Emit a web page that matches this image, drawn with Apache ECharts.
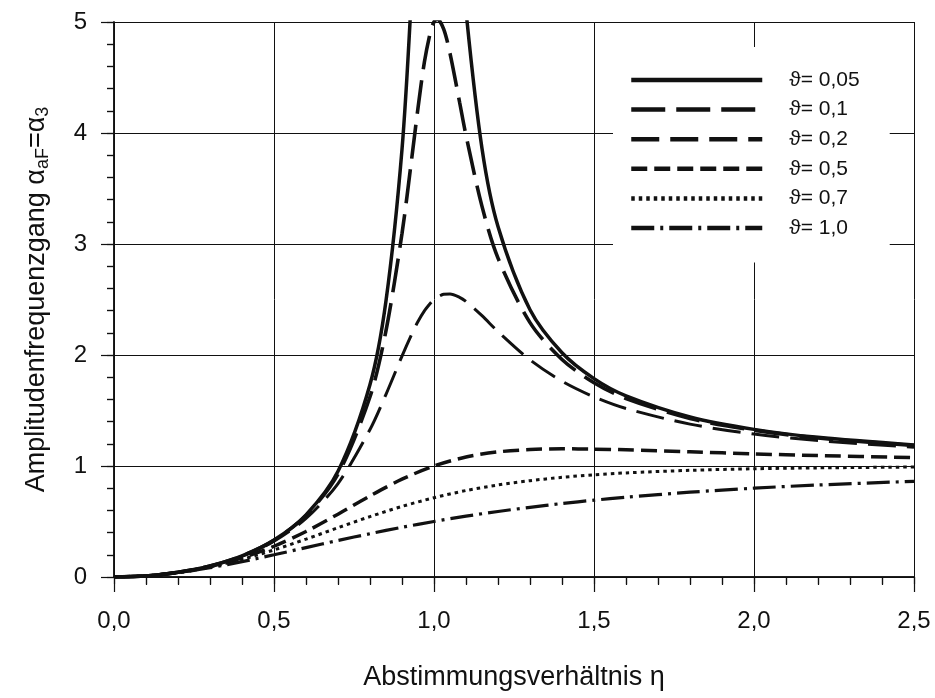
<!DOCTYPE html>
<html>
<head>
<meta charset="utf-8">
<script src="https://cdn.jsdelivr.net/npm/echarts@6/dist/echarts.min.js"></script>
<style>
  html, body { margin: 0; padding: 0; background: #fff; }
  #root { width: 935px; height: 698px; }
</style>
</head>
<body>
<div id="root"></div>
<script>
// eta values
const etaFine = [0, 0.1, 0.2, 0.3, 0.4, 0.5, 0.6, 0.7, 0.8, 0.85, 0.9, 0.93, 0.95, 0.97, 0.99, 1.0,
  1.01, 1.03, 1.05, 1.08, 1.1, 1.15, 1.2, 1.3, 1.4, 1.5, 1.6, 1.8, 2.0, 2.2, 2.5];
const etaCoarse = [0, 0.1, 0.2, 0.3, 0.4, 0.5, 0.6, 0.7, 0.8, 0.9, 1.0,
  1.1, 1.2, 1.3, 1.4, 1.5, 1.6, 1.8, 2.0, 2.2, 2.5];

// amplitude per damping (0.05 / 0.1 / 0.2 on etaFine, rest on etaCoarse)
const alpha005 = [0, 0.010, 0.042, 0.099, 0.190, 0.333, 0.560, 0.952, 1.735, 2.489, 3.853, 5.27, 6.63, 8.28, 9.60, 10.0,
  9.75, 8.87, 7.51, 5.88, 5.10, 3.86, 3.157, 2.407, 2.020, 1.787, 1.632, 1.442, 1.330, 1.258, 1.189];
const alpha01 = [0, 0.010, 0.042, 0.099, 0.190, 0.330, 0.553, 0.927, 1.624, 2.220, 3.095, 3.762, 4.226, 4.640, 4.925, 5.0,
  5.025, 4.939, 4.718, 4.277, 3.979, 3.339, 2.873, 2.292, 1.960, 1.750, 1.608, 1.428, 1.322, 1.252, 1.185];
const alpha02 = [0, 0.010, 0.042, 0.098, 0.187, 0.322, 0.527, 0.842, 1.329, 1.646, 1.990, 2.185, 2.301, 2.397, 2.470, 2.5,
  2.520, 2.547, 2.550, 2.520, 2.482, 2.354, 2.211, 1.956, 1.764, 1.623, 1.518, 1.377, 1.288, 1.229, 1.169];
const alpha05 = [0, 0.010, 0.041, 0.094, 0.172, 0.277, 0.410, 0.566, 0.730, 0.881, 1.0,
  1.081, 1.127, 1.148, 1.155, 1.152, 1.146, 1.128, 1.109, 1.094, 1.075];
const alpha07 = [0, 0.010, 0.040, 0.090, 0.159, 0.244, 0.341, 0.444, 0.544, 0.636, 0.714,
  0.779, 0.829, 0.868, 0.898, 0.921, 0.938, 0.961, 0.975, 0.983, 0.991];
const alpha10 = [0, 0.010, 0.038, 0.083, 0.138, 0.200, 0.265, 0.329, 0.390, 0.448, 0.500,
  0.548, 0.590, 0.628, 0.662, 0.692, 0.719, 0.764, 0.800, 0.829, 0.862];

const seriesNames = ['ϑ= 0,05', 'ϑ= 0,1', 'ϑ= 0,2', 'ϑ= 0,5', 'ϑ= 0,7', 'ϑ= 1,0'];
const xTickLabels = ['0,0', '0,5', '1,0', '1,5', '2,0', '2,5'];
const yTickLabels = ['0', '1', '2', '3', '4', '5'];

const pairs = (xs, ys) => xs.map((x, i) => [x, ys[i]]);

const FONT = 'Liberation Sans, Arial, sans-serif';
const INK = '#111';

const gridBox = { left: 114, right: 21, top: 22, bottom: 121 };

const lineSeries = (name, data, width, type) => ({
  name,
  type: 'line',
  xAxisIndex: 0,
  yAxisIndex: 0,
  data,
  symbol: 'none',
  smooth: 0.3,
  clip: true,
  lineStyle: { color: INK, width, type, cap: 'butt' },
  itemStyle: { color: INK },
  z: 3
});

// inward ticks on the top and right edges (second grid on the same box)
const innerAxis = (position, max, interval) => ({
  gridIndex: 1, type: 'value', position,
  min: 0, max, interval,
  axisLine: { show: true, lineStyle: { color: INK, width: 1.5 } },
  axisTick: { inside: true, length: 7, lineStyle: { color: INK, width: 1.2 } },
  axisLabel: { show: false },
  splitLine: { show: false }
});

const option = {
  animation: false,
  backgroundColor: '#fff',
  grid: [
    Object.assign({}, gridBox),
    Object.assign({}, gridBox)
  ],
  xAxis: [
    {
      gridIndex: 0, type: 'value', position: 'bottom',
      min: 0, max: 2.5, interval: 0.5,
      name: 'Abstimmungsverhältnis η', nameLocation: 'middle', nameGap: 87,
      nameTextStyle: { fontFamily: FONT, fontSize: 27, color: INK },
      axisLine: { lineStyle: { color: INK, width: 1.5 } },
      axisTick: { inside: false, length: 15, lineStyle: { color: INK, width: 1.2 } },
      minorTick: { show: true, splitNumber: 5, length: 8, lineStyle: { color: INK, width: 1.2 } },
      axisLabel: {
        margin: 32, fontFamily: FONT, fontSize: 24, color: INK,
        formatter: (v) => xTickLabels[Math.round(v / 0.5)]
      },
      splitLine: { show: true, lineStyle: { color: INK, width: 1 } }
    },
    innerAxis('top', 2.5, 0.1)
  ],
  yAxis: [
    {
      gridIndex: 0, type: 'value', position: 'left',
      min: 0, max: 5, interval: 1,
      name: '{a|Amplitudenfrequenzgang α}{s|aF}{a|=α}{s|3}',
      nameLocation: 'middle', nameGap: 62,
      nameTextStyle: {
        fontFamily: FONT, color: INK,
        rich: {
          a: { fontFamily: FONT, fontSize: 27, color: INK, lineHeight: 30 },
          s: { fontFamily: FONT, fontSize: 18, color: INK, lineHeight: 30, verticalAlign: 'bottom', padding: [10, 0, 0, 0] }
        }
      },
      axisLine: { lineStyle: { color: INK, width: 1.5 } },
      axisTick: { inside: false, length: 13, lineStyle: { color: INK, width: 1.2 } },
      minorTick: { show: true, splitNumber: 5, length: 7, lineStyle: { color: INK, width: 1.2 } },
      axisLabel: {
        margin: 27, fontFamily: FONT, fontSize: 24, color: INK,
        formatter: (v) => yTickLabels[Math.round(v)]
      },
      splitLine: { show: true, lineStyle: { color: INK, width: 1 } }
    },
    innerAxis('right', 5, 0.2)
  ],
  legend: {
    orient: 'vertical',
    left: 613,
    top: 47,
    padding: [22.5, 30, 24, 16],
    backgroundColor: '#fff',
    itemWidth: 131,
    itemHeight: 14,
    itemGap: 8.6,
    z: 10,
    selectedMode: false,
    data: seriesNames,
    itemStyle: { opacity: 0 },
    lineStyle: { width: 4.5 },
    textStyle: { fontFamily: FONT, fontSize: 21, color: INK, padding: [0, 0, 0, 22] }
  },
  series: [
    lineSeries(seriesNames[0], pairs(etaFine, alpha005), 3.5, 'solid'),
    lineSeries(seriesNames[1], pairs(etaFine, alpha01), 3.6, [34, 11]),
    lineSeries(seriesNames[2], pairs(etaFine, alpha02), 3, [28, 11]),
    lineSeries(seriesNames[3], pairs(etaCoarse, alpha05), 3.5, [16, 7]),
    lineSeries(seriesNames[4], pairs(etaCoarse, alpha07), 3, [3.5, 4]),
    lineSeries(seriesNames[5], pairs(etaCoarse, alpha10), 3.2, [23, 6, 3, 6])
  ]
};

const chart = echarts.init(document.getElementById('root'), null, { renderer: 'canvas' });
chart.setOption(option);
</script>
</body>
</html>
